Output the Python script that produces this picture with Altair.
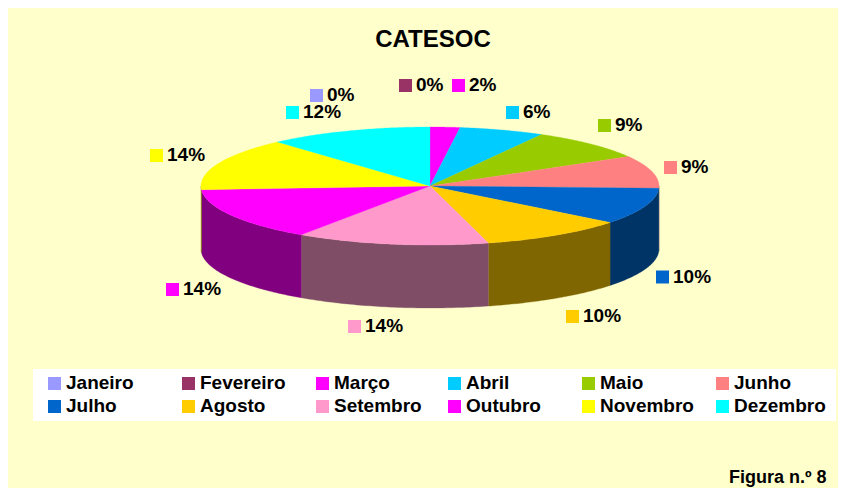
import math
import altair as alt
import pandas as pd

months = ["Janeiro", "Fevereiro", "Março", "Abril", "Maio", "Junho", "Julho", "Agosto",
          "Setembro", "Outubro", "Novembro", "Dezembro"]
values = [0.0, 0.0, 2.1, 6.0, 8.6, 8.9, 10.0, 10.3, 13.6, 14.5, 14.4, 11.6]
labels = ["0%", "0%", "2%", "6%", "9%", "9%", "10%", "10%", "14%", "14%", "14%", "12%"]
colors = ["#9999FF", "#993366", "#FF00FF", "#00CCFF", "#99CC00", "#FF8080", "#0066CC", "#FFCC00",
          "#FF99CC", "#FF00FF", "#FFFF00", "#00FFFF"]
wall_colors = ["#4D4D80", "#4D1A33", "#800080", "#006680", "#4D6600", "#804040", "#003366", "#806600",
               "#804D66", "#800080", "#808000", "#008080"]

# label anchors (swatch centre), in picture pixels
label_x = [316.5, 405.5, 458.5, 512.5, 604.5, 670.5, 662.5, 572.5, 354.5, 172.5, 156.5, 292.5]
label_y = [95.5, 85.5, 85.5, 112.5, 125.5, 167.5, 277, 316.5, 326.5, 289.5, 155.5, 112.5]
legend_x = [54.5, 188.5, 322.5, 454.5, 588.5, 722.5]
legend_y = [383.5, 406.5]

CX, CY, RX, RY, DEPTH = 430, 186, 229, 59, 63
W, H = 830, 480


def ell(t, dy=0.0):
    r = math.radians(t)
    return CX + RX * math.sin(r), CY - RY * math.cos(r) + dy


def span(a, b, n=60):
    return [a + (b - a) * k / n for k in range(n + 1)]


tops, walls = [], []
cum = 0.0
for m, v in zip(months, values):
    a, b = cum * 3.6, (cum + v) * 3.6
    cum += v
    if v <= 0:
        continue
    pts = [(CX, CY)] + [ell(t) for t in span(a, b)]
    for i, (x, y) in enumerate(pts):
        tops.append({"m": m, "i": i, "x": x, "y": y})
    lo, hi = max(a, 90), min(b, 270)
    if hi > lo:
        pts = [ell(t) for t in span(lo, hi)] + [ell(t, DEPTH) for t in span(hi, lo)]
        for i, (x, y) in enumerate(pts):
            walls.append({"m": m, "i": i, "x": x, "y": y})

xs = alt.Scale(domain=[8, 8 + W], range=[0, W], nice=False, zero=False)
ys = alt.Scale(domain=[8, 8 + H], range=[0, H], nice=False, zero=False)
X = lambda f="x": alt.X(f"{f}:Q", scale=xs, axis=None)
Y = lambda f="y": alt.Y(f"{f}:Q", scale=ys, axis=None)
FONT = "Liberation Sans"


def faces(rows, palette, sw):
    sc = alt.Scale(domain=months, range=palette)
    return alt.Chart(pd.DataFrame(rows)).mark_line(interpolate="linear-closed", strokeWidth=sw).encode(
        x=X(), y=Y(),
        fill=alt.Fill("m:N", scale=sc, legend=None),
        stroke=alt.Stroke("m:N", scale=sc, legend=None),
        detail="m:N",
        order=alt.Order("i:Q"),
    )


sw_scale = alt.Scale(domain=months, range=colors)

label_df = pd.DataFrame({"m": months, "t": labels, "x": label_x, "y": label_y})
label_df["tx"] = label_df["x"] + 10.5
label_df["ty"] = label_df["y"] - 0.5
legend_df = pd.DataFrame({
    "m": months,
    "x": [legend_x[i % 6] for i in range(12)],
    "y": [legend_y[i // 6] for i in range(12)],
})
legend_df["tx"] = legend_df["x"] + 11.5
legend_df["ty"] = legend_df["y"] - 0.5

swatch = lambda df: alt.Chart(df).mark_square(size=169, opacity=1, filled=True, strokeWidth=0).encode(
    x=X(), y=Y(), fill=alt.Fill("m:N", scale=sw_scale, legend=None))

box = alt.Chart(pd.DataFrame({"x": [33], "x2": [836], "y": [369], "y2": [421]})).mark_rect(color="white").encode(
    x=X(), x2="x2:Q", y=Y(), y2="y2:Q")

title = alt.Chart(pd.DataFrame({"t": ["CATESOC"], "x": [433], "y": [40]})).mark_text(
    font=FONT, fontWeight="bold", fontSize=24, color="black").encode(x=X(), y=Y(), text="t:N")

pct = alt.Chart(label_df).mark_text(font=FONT, fontWeight="bold", fontSize=19, align="left", color="black").encode(
    x=X("tx"), y=Y("ty"), text="t:N")
leg = alt.Chart(legend_df).mark_text(font=FONT, fontWeight="bold", fontSize=19, align="left", color="black").encode(
    x=X("tx"), y=Y("ty"), text="m:N")
fig = alt.Chart(pd.DataFrame({"t": ["Figura n.º 8"], "x": [826.5], "y": [478]})).mark_text(
    font=FONT, fontWeight="bold", fontSize=18, align="right", color="black").encode(x=X(), y=Y(), text="t:N")

chart = alt.layer(
    faces(walls, wall_colors, 0.3),
    faces(tops, colors, 0.3),
    swatch(label_df), pct, title, box, swatch(legend_df), leg, fig,
).resolve_scale(fill="independent", stroke="independent").properties(
    width=W, height=H, padding=0, background="white",
).configure_view(fill="#FFFFCC", stroke=None)

chart.save("out.html", embed_options={"renderer": "svg", "actions": False})
